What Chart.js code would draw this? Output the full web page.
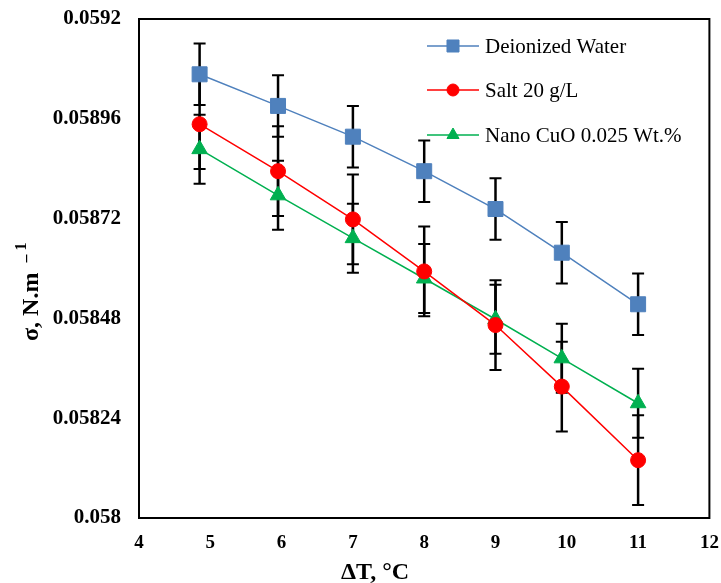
<!DOCTYPE html>
<html>
<head>
<meta charset="utf-8">
<script src="https://cdn.jsdelivr.net/npm/chart.js@4.4.1/dist/chart.umd.min.js"></script>
<style>
  body { margin: 0; background: #fff; }
  #wrap { width: 721px; height: 583px; }
</style>
</head>
<body>
<div id="wrap"><canvas id="surfChart" width="721" height="583"></canvas></div>
<script>
// temperature difference (deg C)
const deltaT = [4.85, 5.95, 7.0, 8.0, 9.0, 9.93, 11.0];

// surface tension, N/m
const waterVals = [0.059067, 0.058991, 0.058917, 0.058834, 0.058743, 0.058638, 0.058514];
const saltVals  = [0.058947, 0.058834, 0.058718, 0.058593, 0.058464, 0.058316, 0.058139];
const cuoVals   = [0.058887, 0.058776, 0.058673, 0.058576, 0.058478, 0.058384, 0.058276];

// error bar half-widths
const waterErr = [0.000074, 0.000074, 0.000074, 0.000074, 0.000074, 0.000074, 0.000074];
const saltErr  = [0.000108, 0.000108, 0.000108, 0.000108, 0.000108, 0.000108, 0.000108];
const cuoErr   = [0.000083, 0.000083, 0.000083, 0.000083, 0.000083, 0.000083, 0.000083];

const seriesNames = ['Deionized Water', 'Salt 20 g/L', 'Nano CuO 0.025 Wt.%'];
const yTicks = [0.058, 0.05824, 0.05848, 0.05872, 0.05896, 0.0592];

const serif = "'Liberation Serif', 'Times New Roman', serif";

function toPoints(vals) {
    return vals.map((v, i) => ({ x: deltaT[i], y: v }));
}

// draw the black error bars under the markers
const errorBars = {
    id: 'errorBars',
    beforeDatasetsDraw(chart) {
        const ctx = chart.ctx;
        const yScale = chart.scales.y;
        ctx.save();
        ctx.strokeStyle = '#000';
        chart.data.datasets.forEach((ds, di) => {
            const meta = chart.getDatasetMeta(di);
            meta.data.forEach((pt, i) => {
                const v = ds.data[i].y;
                const e = ds.errors[i];
                const top = yScale.getPixelForValue(v + e);
                const bot = yScale.getPixelForValue(v - e);
                ctx.lineWidth = 2.5;
                ctx.beginPath();
                ctx.moveTo(pt.x, top);
                ctx.lineTo(pt.x, bot);
                ctx.stroke();
                ctx.lineWidth = 2;
                ctx.beginPath();
                ctx.moveTo(pt.x - 6, top);
                ctx.lineTo(pt.x + 6, top);
                ctx.moveTo(pt.x - 6, bot);
                ctx.lineTo(pt.x + 6, bot);
                ctx.stroke();
            });
        });
        ctx.restore();
    }
};

// plot frame, axis titles and legend
const decorations = {
    id: 'decorations',
    afterDraw(chart) {
        const ctx = chart.ctx;
        const a = chart.chartArea;
        ctx.save();

        ctx.strokeStyle = '#000';
        ctx.lineWidth = 2;
        ctx.strokeRect(a.left, a.top, a.right - a.left, a.bottom - a.top);

        // x title
        ctx.fillStyle = '#000';
        ctx.font = 'bold 24px ' + serif;
        ctx.textAlign = 'left';
        ctx.textBaseline = 'alphabetic';
        ctx.fillText('ΔT, °C', 341, 579);

        // y title
        ctx.save();
        ctx.translate(38, 341);
        ctx.rotate(-Math.PI / 2);
        ctx.font = 'bold 24px ' + serif;
        ctx.fillText('σ, N.m', 0, 0);
        let w = ctx.measureText('σ, N.m').width;
        ctx.font = 'bold 16px ' + serif;
        ctx.fillText('–', w + 10, -7);
        ctx.fillText('1', w + 22, -12);
        ctx.restore();

        // legend
        ctx.font = '21px ' + serif;
        ctx.textBaseline = 'middle';
        const rows = [46, 90, 135];
        chart.data.datasets.forEach((ds, i) => {
            const y = rows[i];
            ctx.strokeStyle = ds.borderColor;
            ctx.lineWidth = ds.borderWidth;
            ctx.beginPath();
            ctx.moveTo(427, y);
            ctx.lineTo(479, y);
            ctx.stroke();
            ctx.fillStyle = ds.pointBackgroundColor;
            ctx.strokeStyle = ds.pointBorderColor;
            ctx.lineWidth = 1;
            Chart.helpers.drawPoint(ctx, {
                pointStyle: ds.pointStyle,
                radius: ds.legendRadius,
                borderWidth: 1,
                rotation: 0
            }, 453, y);
            ctx.fillStyle = '#000';
            ctx.fillText(seriesNames[i], 485, y + 1);
        });
        ctx.restore();
    }
};

const ctx = document.getElementById('surfChart').getContext('2d');
const surfChart = new Chart(ctx, {
    type: 'scatter',
    data: {
        datasets: [
            {
                label: seriesNames[0],
                data: toPoints(waterVals),
                errors: waterErr,
                showLine: true,
                borderColor: '#4F81BD',
                borderWidth: 1.5,
                pointStyle: 'rect',
                pointRadius: 10.6,
                legendRadius: 8.5,
                pointBackgroundColor: '#4F81BD',
                pointBorderColor: '#4F81BD',
                pointBorderWidth: 1
            },
            {
                label: seriesNames[1],
                data: toPoints(saltVals),
                errors: saltErr,
                showLine: true,
                borderColor: '#FF0000',
                borderWidth: 1.5,
                pointStyle: 'circle',
                pointRadius: 7.5,
                legendRadius: 6,
                pointBackgroundColor: '#FF0000',
                pointBorderColor: '#FF0000',
                pointBorderWidth: 1
            },
            {
                label: seriesNames[2],
                data: toPoints(cuoVals),
                errors: cuoErr,
                showLine: true,
                borderColor: '#00B050',
                borderWidth: 1.5,
                pointStyle: 'triangle',
                pointRadius: 9,
                legendRadius: 7,
                pointBackgroundColor: '#00B050',
                pointBorderColor: '#00B050',
                pointBorderWidth: 1
            }
        ]
    },
    options: {
        responsive: false,
        animation: false,
        layout: { padding: { top: 19, right: 11, left: 0, bottom: 0 } },
        plugins: {
            legend: { display: false },
            tooltip: { enabled: false }
        },
        scales: {
            x: {
                type: 'linear',
                min: 4,
                max: 12,
                ticks: {
                    stepSize: 1,
                    color: '#000',
                    padding: 14,
                    font: { family: serif, size: 19, weight: 'bold' }
                },
                grid: { display: false, drawTicks: false },
                border: { display: false },
                afterFit(scale) {
                    scale.height = 65;
                    scale.paddingLeft = 0;
                    scale.paddingRight = 0;
                }
            },
            y: {
                type: 'linear',
                min: 0.058,
                max: 0.0592,
                afterBuildTicks(scale) {
                    scale.ticks = yTicks.map(v => ({ value: v }));
                },
                ticks: {
                    color: '#000',
                    padding: 18,
                    font: { family: serif, size: 21, weight: 'bold' },
                    callback: v => String(Number(v.toFixed(5)))
                },
                grid: { display: false, drawTicks: false },
                border: { display: false },
                afterFit(scale) {
                    scale.width = 139;
                    scale.paddingTop = 0;
                    scale.paddingBottom = 0;
                }
            }
        }
    },
    plugins: [errorBars, decorations]
});
</script>
</body>
</html>
